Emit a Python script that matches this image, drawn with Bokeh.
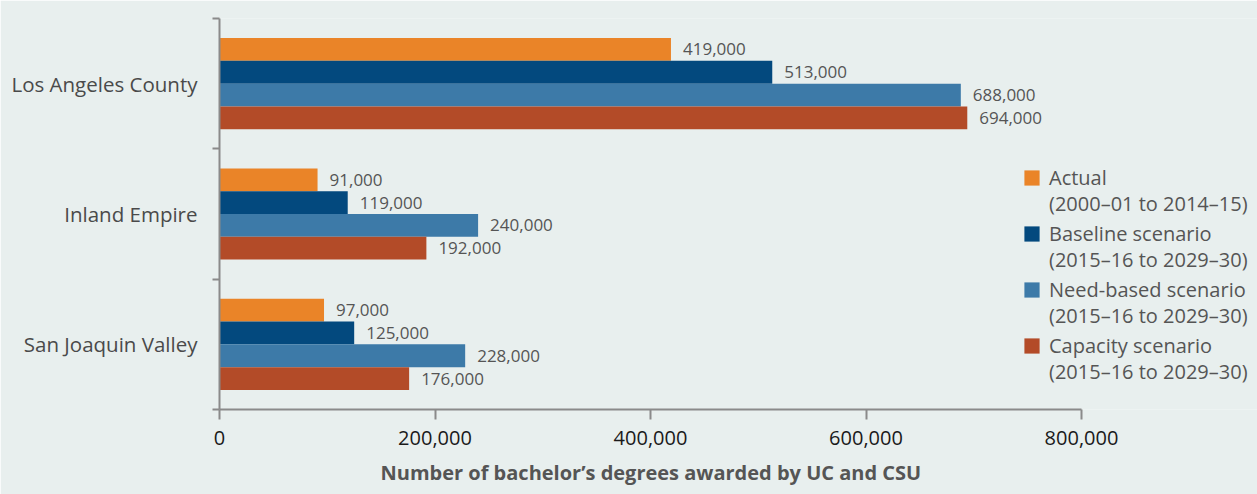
from bokeh.plotting import figure
from bokeh.models import (Range1d, FixedTicker, NumeralTickFormatter, Legend, LegendItem,
                          ColumnDataSource, Title)
from bokeh.core.properties import value
from bokeh.embed import file_html
from bokeh.resources import INLINE

# ---- data ----
regions = ["Los Angeles County", "Inland Empire", "San Joaquin Valley"]
series_names = ["Actual", "Baseline scenario", "Need-based scenario", "Capacity scenario"]
series_periods = ["(2000\u201301 to 2014\u201315)", "(2015\u201316 to 2029\u201330)",
                  "(2015\u201316 to 2029\u201330)", "(2015\u201316 to 2029\u201330)"]
actual = [419000, 91000, 97000]
baseline = [513000, 119000, 125000]
need_based = [688000, 240000, 228000]
capacity = [694000, 192000, 176000]
x_ticks = [0, 200000, 400000, 600000, 800000]
x_title = "Number of bachelor\u2019s degrees awarded by UC and CSU"

series = [actual, baseline, need_based, capacity]
colors = ["#ea8428", "#03497e", "#3d7aa8", "#b34b28"]

BG = "#e8efee"
FONT = "Open Sans"

# layout (pixels)
W, H = 1257, 494
FRAME_L, AXIS_R = 219, 1081
x_max = x_ticks[-1]
x_end = x_max * (W - FRAME_L) / (AXIS_R - FRAME_L)   # frame runs to the right edge

n = len(regions)
p = figure(width=W, height=H, output_backend="svg", toolbar_location=None,
           x_range=Range1d(0, x_end), y_range=Range1d(n, 0),
           min_border_left=FRAME_L, min_border_right=0, min_border_top=18,
           min_border_bottom=84)
p.background_fill_color = BG
p.border_fill_color = BG
p.outline_line_color = None
p.xgrid.visible = False
p.ygrid.visible = False

group_h = 0.70
bar_h = group_h / len(series)
centers = [i + 0.5 for i in range(n)]

renderers = []
for k, (vals, col) in enumerate(zip(series, colors)):
    ys = [c - group_h / 2 + bar_h * (k + 0.5) for c in centers]
    src = ColumnDataSource(dict(y=ys, x=vals, lab=[f"{v:,}" for v in vals]))
    r = p.hbar(y="y", right="x", left=0, height=bar_h, source=src,
               fill_color=col, line_color=None)
    renderers.append(r)
    p.text(x="x", y="y", text="lab", source=src, x_offset=12,
           text_baseline="middle", text_align="left",
           text_font=value(FONT), text_font_size="17px", text_color="#555555")

# invisible renderer for the second legend line
dummy = p.hbar(y=[], right=[], left=0, height=bar_h, fill_alpha=0, line_alpha=0)

# x axis
xa = p.xaxis[0]
xa.bounds = (0, x_max)
xa.ticker = FixedTicker(ticks=x_ticks)
xa.formatter = NumeralTickFormatter(format="0,0")
xa.axis_line_color = "#8a8a8a"
xa.axis_line_width = 2
xa.major_tick_line_color = "#8a8a8a"
xa.major_tick_line_width = 2
xa.major_tick_out = 10
xa.major_tick_in = 0
xa.minor_tick_line_color = None
xa.major_label_text_font = FONT
xa.major_label_text_font_size = "20px"
xa.major_label_text_color = "#1a1a1a"
xa.major_label_standoff = 11

# axis title, centred under the 0..800,000 span of the axis
t = Title(text=x_title, align="left", offset=161, standoff=18,
          text_font=FONT, text_font_style="bold", text_font_size="20px",
          text_color="#555555")
p.add_layout(t, "below")

# y axis
ya = p.yaxis[0]
ya.ticker = FixedTicker(ticks=centers, minor_ticks=list(range(n + 1)))
ya.major_label_overrides = {c: r for c, r in zip(centers, regions)}
ya.axis_line_color = "#8a8a8a"
ya.axis_line_width = 2
ya.major_tick_line_color = None
ya.major_tick_out = 0
ya.major_tick_in = 0
ya.minor_tick_line_color = "#8a8a8a"
ya.minor_tick_line_width = 2
ya.minor_tick_out = 7
ya.minor_tick_in = 0
ya.major_label_text_font = FONT
ya.major_label_text_font_size = "20.5px"
ya.major_label_text_color = "#4a4a4a"
ya.major_label_standoff = 15


def make_legend(labels, rends, loc):
    lg = Legend(items=[LegendItem(label=t, renderers=[r]) for t, r in zip(labels, rends)],
                location=loc, orientation="vertical")
    lg.background_fill_alpha = 0
    lg.border_line_color = None
    lg.padding = 0
    lg.margin = 0
    lg.spacing = 29
    lg.glyph_width = 19
    lg.glyph_height = 19
    lg.label_height = 19
    lg.label_standoff = 8
    lg.label_text_font = FONT
    lg.label_text_font_size = "20px"
    lg.label_text_color = "#555555"
    return lg


p.add_layout(make_legend(series_names, renderers, (803, 50)))
p.add_layout(make_legend(series_periods, [dummy] * len(series), (803, 24)))

open("out.html", "w").write(file_html(p, INLINE))
